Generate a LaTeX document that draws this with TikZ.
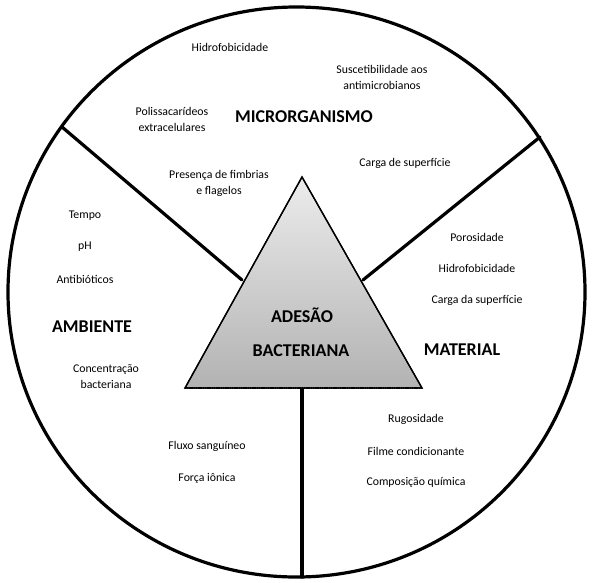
\documentclass[tikz,border=0pt]{standalone}
\usepackage{fontspec}
\setmainfont{Carlito}
\usetikzlibrary{calc}
\tikzset{
    factor/.style={align=center, inner sep=0pt, font=\fontsize{11.8}{16}\selectfont},
    sector/.style={inner sep=0pt, font=\fontsize{18}{20}\selectfont\bfseries},
    divider/.style={line width=3.2pt, line cap=round},
    core/.style={draw=black, line width=1.3pt, top color=gray!15, bottom color=gray!60, shading angle=0}
}
\begin{document}
\begin{tikzpicture}[x=1pt, y=-1pt]
        \useasboundingbox[fill=white] (0,0) rectangle (592,582);

        % Circle
        \coordinate (centre) at (296.5,292);
        \draw[line width=3.2pt] (centre) ellipse [x radius=288.5pt, y radius=285pt];

        % Triangle corners
        \coordinate (apex) at (302,177);
        \coordinate (baseL) at (185,388);
        \coordinate (baseR) at (422,388);
        \coordinate (baseM) at (302,388);

        % Divider ends on the circle and on the triangle
        \coordinate (rimL) at (62,127);
        \coordinate (rimR) at (540,137);
        \coordinate (rimB) at (302,577);
        \coordinate (sideL) at (242,280);
        \coordinate (sideR) at (363,280);

        % Dividers
        \draw[divider] (rimL) -- (sideL);
        \draw[divider] (rimR) -- (sideR);
        \draw[divider] (baseM) -- (rimB);

        % Triangle
        \shade[core] (apex) -- (baseL) -- (baseR) -- cycle;
        \draw[line width=1.3pt] (apex) -- (baseL) -- (baseR) -- cycle;
        \draw[line width=2.4pt, dash pattern=on 1.2pt off 0.6pt] (baseL) -- (baseR);
        \node (ades) [sector] at (302,315) {ADESÃO};
        \node (bact) [sector] at (301,351) {BACTERIANA};

        % Microrganismo
        \node (micro) [sector] at (304,117) {MICRORGANISMO};
        \node (hidro1) [factor] at (230,47) {Hidrofobicidade};
        \node (susc) [factor] at (382,77) {Suscetibilidade aos\\antimicrobianos};
        \node (polis) [factor] at (172,119) {Polissacarídeos\\extracelulares};
        \node (carga1) [factor] at (405,163) {Carga de superfície};
        \node (fimb) [factor] at (219,183) {Presença de fimbrias\\e flagelos};

        % Ambiente
        \node (amb) [sector] at (92,327) {AMBIENTE};
        \node (tempo) [factor] at (85,216) {Tempo};
        \node (ph) [factor] at (85,247) {pH};
        \node (antib) [factor] at (85,279) {Antibióticos};
        \node (conc) [factor] at (106,377) {Concentração\\bacteriana};
        \node (fluxo) [factor] at (207,446) {Fluxo sanguíneo};
        \node (forca) [factor] at (207,478) {Força iônica};

        % Material
        \node (mat) [sector] at (462,350) {MATERIAL};
        \node (poros) [factor] at (477,237) {Porosidade};
        \node (hidro2) [factor] at (477,268) {Hidrofobicidade};
        \node (carga2) [factor] at (477,300) {Carga da superfície};
        \node (rugo) [factor] at (416,419) {Rugosidade};
        \node (filme) [factor] at (416,451) {Filme condicionante};
        \node (comp) [factor] at (416,482) {Composição química};
    \end{tikzpicture}
\end{document}
